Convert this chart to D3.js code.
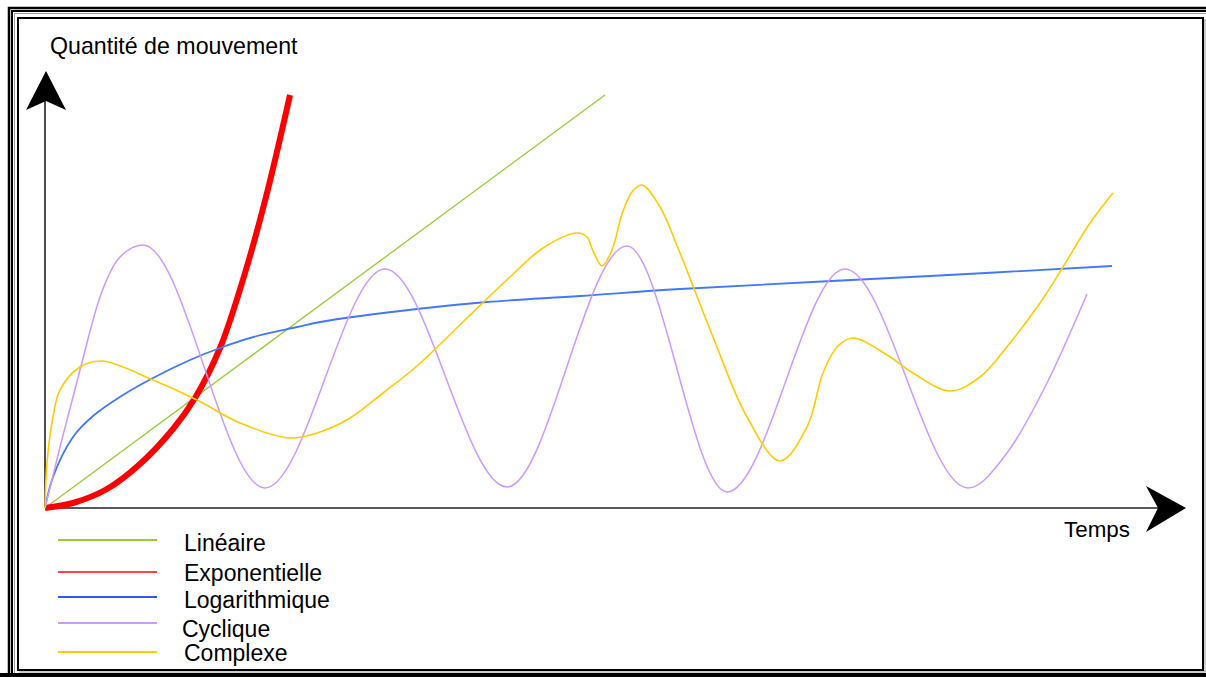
<!DOCTYPE html>
<html>
<head>
<meta charset="utf-8">
<script src="https://cdn.jsdelivr.net/npm/d3@7"></script>
<style>
  html, body { margin: 0; padding: 0; background: #fff; }
  svg { display: block; font-family: "Liberation Sans", Arial, sans-serif; }
</style>
</head>
<body>
<div class="chart"></div>
<script>
// values: [temps, quantité]
var lineaire = [[0, 0], [560, 413]];
var exponentielle = [[0, 0], [28, 5], [62, 19], [95, 44], [128, 79], [150, 110], [175, 160], [200, 235], [222, 315], [245, 413]];
var logarithmique = [[0, 0], [8, 31], [28, 71], [48, 92], [78, 113], [108, 130], [145, 148], [175, 160], [212, 172],
  [252, 181], [275, 186], [372, 199], [442, 206], [535, 212], [635, 219], [885, 232], [1067, 242]];
var cyclique = [[0, 0], [15, 61], [35, 138], [55, 211], [75, 251], [98, 263], [220, 20], [340, 239], [462, 21],
  [582, 262], [682, 16], [800, 239], [923, 20], [962, 55], [1002, 125], [1042, 214]];
var complexe = [[0, 0], [2, 45], [8, 91], [15, 118], [35, 141], [57, 147], [108, 128], [152, 108], [195, 85],
  [245, 70], [275, 76], [305, 90], [338, 115], [372, 142], [422, 190], [465, 231], [498, 260], [532, 275],
  [542, 271], [548, 257], [557, 242], [567, 258], [577, 294], [587, 316], [597, 323], [615, 301], [633, 260],
  [668, 171], [702, 91], [735, 47], [762, 81], [778, 135], [792, 161], [808, 170], [842, 153], [868, 135],
  [905, 117], [935, 131], [965, 165], [995, 205], [1018, 241], [1045, 285], [1068, 315]];

var seriesNames = ["Linéaire", "Exponentielle", "Logarithmique", "Cyclique", "Complexe"];
var seriesData = [lineaire, exponentielle, logarithmique, cyclique, complexe];
var seriesColors = ["#99cc33", "#ff0000", "#4477ff", "#cc99ff", "#ffcc00"];
var legendColors = ["#99cc33", "#ff4444", "#3355ff", "#cc99ff", "#ffcc00"];
var seriesWidths = [1.3, 6, 1.8, 1.5, 1.6];

var W = 1206, H = 677;

var svg = d3.select(".chart").append("svg")
    .attr("width", W)
    .attr("height", H);

// frame (double outer lines + inner box)
var frame = svg.append("g").attr("fill", "none");
frame.append("path").attr("stroke", "#000").attr("stroke-width", 2.5)
    .attr("d", "M9,1300 V8 H1300");
frame.append("path").attr("stroke", "#000").attr("stroke-width", 2)
    .attr("d", "M12,1300 V11 H1300");
frame.append("path").attr("stroke", "#999").attr("stroke-width", 1)
    .attr("d", "M14.5,1300 V13.5 H1300");
frame.append("rect").attr("stroke", "#000").attr("stroke-width", 2)
    .attr("x", 18).attr("y", 18).attr("width", 1185).attr("height", 652);
frame.append("path").attr("stroke", "#999").attr("stroke-width", 1)
    .attr("d", "M1205,19 V672 H19");
frame.append("rect").attr("fill", "#000").attr("stroke", "none")
    .attr("x", 0).attr("y", 673).attr("width", W).attr("height", 4);

var x = d3.scaleLinear().domain([0, 1100]).range([45, 1145]);
var y = d3.scaleLinear().domain([0, 440]).range([508, 68]);

// cyclic keeps flat crests with monotone, the others use catmull-rom
var smooth = d3.line()
    .x(function(d) { return x(d[0]); })
    .y(function(d) { return y(d[1]); })
    .curve(d3.curveCatmullRom.alpha(0.5));
var mono = d3.line()
    .x(function(d) { return x(d[0]); })
    .y(function(d) { return y(d[1]); })
    .curve(d3.curveMonotoneX);

// axes (no ticks, just arrows)
var x0 = x(0), y0 = y(0);
svg.append("line")
    .attr("x1", x0).attr("y1", y0).attr("x2", 1160).attr("y2", y0)
    .attr("stroke", "#222").attr("stroke-width", 1.6);
svg.append("line")
    .attr("x1", x0).attr("y1", y0).attr("x2", x0).attr("y2", 100)
    .attr("stroke", "#222").attr("stroke-width", 1.6);
svg.append("path")
    .attr("fill", "#000")
    .attr("d", "M" + (x0 + 1) + ",71 L" + (x0 + 21) + ",110 L" + (x0 + 1) + ",101 L" + (x0 - 19) + ",110 Z");
svg.append("path")
    .attr("fill", "#000")
    .attr("d", "M1186," + y0 + " L1146," + (y0 + 24) + " L1158," + y0 + " L1146," + (y0 - 22) + " Z");

// curves
svg.append("g").selectAll("path")
    .data(seriesData)
  .enter().append("path")
    .attr("fill", "none")
    .attr("stroke", function(d, i) { return seriesColors[i]; })
    .attr("stroke-width", function(d, i) { return seriesWidths[i]; })
    .attr("stroke-linejoin", "round")
    .attr("d", function(d, i) { return i === 3 ? mono(d) : smooth(d); });

// labels
svg.append("text")
    .attr("x", 50).attr("y", 54)
    .attr("font-size", 23.2)
    .text("Quantité de mouvement");
svg.append("text")
    .attr("x", 1064).attr("y", 537)
    .attr("font-size", 22.4)
    .text("Temps");

// legend
var legY = [540, 572, 597, 623, 652];
var legTextY = [551, 581, 608, 637, 661];
var legend = svg.append("g");
legend.selectAll("line")
    .data(seriesNames)
  .enter().append("line")
    .attr("x1", 58).attr("x2", 157)
    .attr("y1", function(d, i) { return legY[i]; })
    .attr("y2", function(d, i) { return legY[i]; })
    .attr("stroke", function(d, i) { return legendColors[i]; })
    .attr("stroke-width", 2);
legend.selectAll("text")
    .data(seriesNames)
  .enter().append("text")
    .attr("x", function(d, i) { return i === 3 ? 182 : 184; })
    .attr("y", function(d, i) { return legTextY[i]; })
    .attr("font-size", 23)
    .text(function(d) { return d; });
</script>
</body>
</html>
